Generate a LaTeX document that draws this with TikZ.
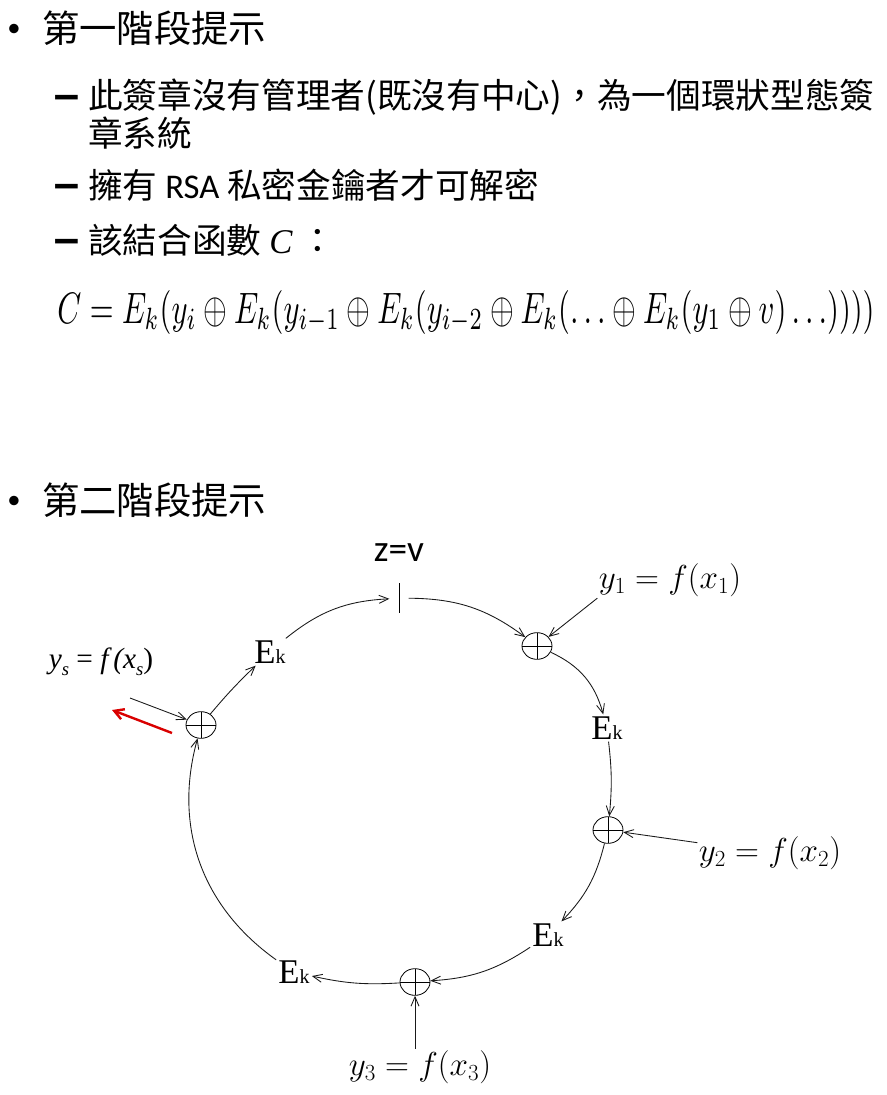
\documentclass[tikz,border=0pt]{standalone}
\usepackage{fontspec}
\usepackage{graphicx}
\setmainfont{Noto Sans CJK TC}
\newfontfamily\lat{Carlito}
\newfontfamily\djv{DejaVu Sans}
\newfontfamily\tms{Liberation Serif}
\usetikzlibrary{arrows.meta,shapes.geometric}
\newcommand{\Ekk}{{\tms\fontsize{26}{26}\selectfont E\fontsize{15}{15}\selectfont k}}
\newcommand{\wdash}{\scalebox{1.6}[1]{–}}
\begin{document}
\begin{tikzpicture}[x=0.75pt,y=-0.75pt,
  lvlone/.style={anchor=west,inner sep=0pt,font=\fontsize{28}{30}\selectfont},
  lvltwo/.style={anchor=west,inner sep=0pt,font=\fontsize{26}{28}\selectfont},
  bul/.style={inner sep=0pt,font=\lat\fontsize{20}{20}\selectfont},
  dsh/.style={anchor=base,inner sep=0pt,font=\djv\bfseries\fontsize{27}{28}\selectfont},
  xor/.style={ellipse,draw,line width=0.6pt,minimum width=22.5pt,minimum height=20pt,inner sep=0pt,
    path picture={\draw[line width=0.6pt] (path picture bounding box.north) -- (path picture bounding box.south)
      (path picture bounding box.west) -- (path picture bounding box.east);}},
  ek/.style={inner sep=1.5pt},
  lab/.style={inner sep=1pt,font=\fontsize{25}{28}\selectfont},
  arr/.style={draw=black!90,line width=0.65pt,-{Straight Barb[length=7pt,width=6pt]}},
  redarr/.style={draw=red!85!black,line width=1.8pt,-{Straight Barb[length=7pt,width=8pt]}}]
\useasboundingbox (0,0) rectangle (887,1095);
% first part
\node[bul] (b1) at (14,30) {•};
\node[lvlone] (t1) at (42,28) {第一階段提示};
\node[dsh] (d1) at (67,108) {\wdash};
\node[lvltwo] (t2) at (88,97) {此簽章沒有管理者(既沒有中心)，為一個環狀型態簽};
\node[lvltwo] (t2b) at (88,133) {章系統};
\node[dsh] (d2) at (67,196) {\wdash};
\node[lvltwo] (t3) at (88,185) {擁有 {\lat RSA} 私密金鑰者才可解密};
\node[dsh] (d3) at (67,251) {\wdash};
\node[lvltwo] (t4) at (88,240) {該結合函數 {\tms\itshape C} ：};
\node[inner sep=0pt] (formula) at (466,312) {\resizebox*{613pt}{33pt}{$C = E_k(y_i \oplus E_k(y_{i-1} \oplus E_k(y_{i-2} \oplus E_k(\ldots\oplus E_k(y_1 \oplus v)\ldots))))$}};
% second part
\node[bul] (b2) at (14,502) {•};
\node[lvlone] (t5) at (42,500) {第二階段提示};
% diagram
\node[inner sep=0pt,font=\lat\fontsize{28}{30}\selectfont] (zv) at (399,553) {z=v};
\node[minimum width=14pt,minimum height=22pt,inner sep=0pt] (tick) at (399,598) {};
\draw[line width=0.6pt] (tick.north) -- (tick.south);
\node[xor] (p1) at (537,646) {};
\node[xor] (p2) at (608,830) {};
\node[xor] (p3) at (415,982) {};
\node[xor] (ps) at (201,725) {};
\node[ek] (ekTL) at (270,652) {\Ekk};
\node[ek] (ekR) at (607,728) {\Ekk};
\node[ek] (ekBR) at (548,935) {\Ekk};
\node[ek] (ekBL) at (294,972) {\Ekk};
\node[lab] (y1) at (670,580) {$y_1 = f(x_1)$};
\node[lab] (y2) at (770,853) {$y_2 = f(x_2)$};
\node[lab] (y3) at (420,1067) {$y_3 = f(x_3)$};
\node[inner sep=1pt,font=\tms\fontsize{22}{24}\selectfont] (ys) at (101,662) {\itshape y\raisebox{-5pt}{\fontsize{14}{14}\selectfont s}\upshape\ =\ \itshape f\,(x\raisebox{-5pt}{\fontsize{14}{14}\selectfont s}\upshape)};
\coordinate (ysout) at (130,698);
\coordinate (redstart) at (172,733);
\coordinate (redend) at (112,710);
\draw[arr] (ekTL) to[bend left=18] (tick);
\draw[arr] (tick) to[bend left=18] (p1);
\draw[arr] (y1.south west) -- (p1);
\draw[arr] (p1) to[bend left=25] (ekR);
\draw[arr] (ekR) to[bend left=6] (p2);
\draw[arr] (y2) -- (p2);
\draw[arr] (p2) to[bend left=15] (ekBR);
\draw[arr] (ekBR) to[bend left=15] (p3);
\draw[arr] (y3.north -| p3) -- (p3);
\draw[arr] (p3) to[bend left=8] (ekBL);
\draw[arr] (ekBL) to[bend left=35] (ps);
\draw[arr] (ps) to[bend left=3] (ekTL);
\draw[arr] (ysout) -- (ps);
\draw[redarr] (redstart) -- (redend);
\end{tikzpicture}
\end{document}
